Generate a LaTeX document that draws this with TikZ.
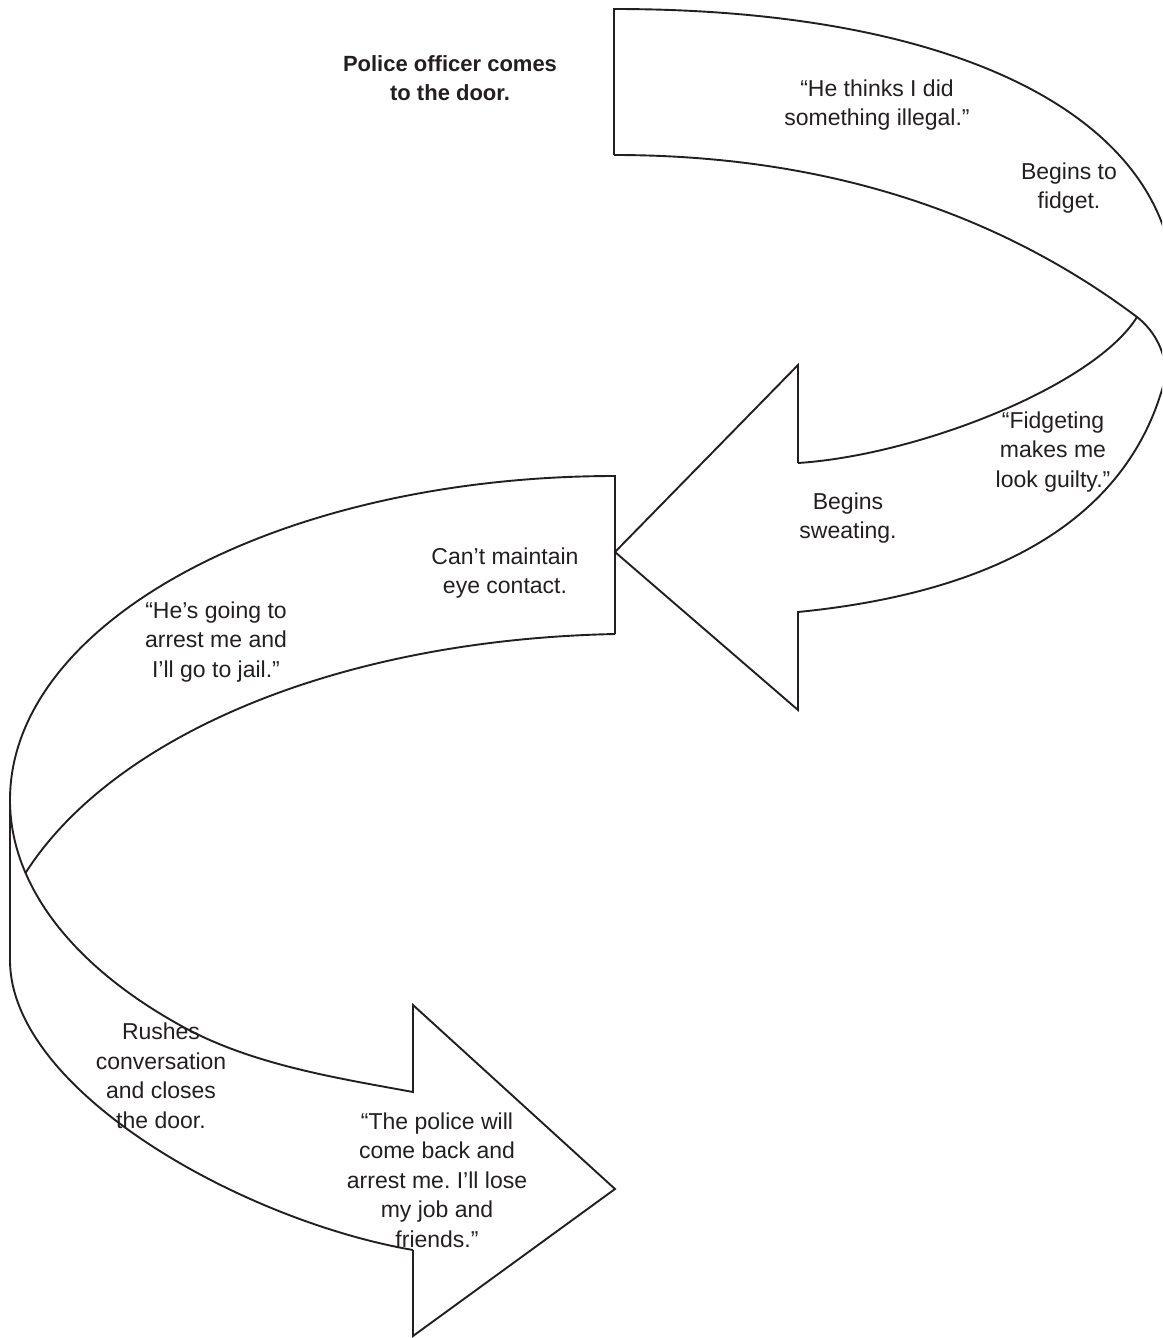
\documentclass[tikz,border=0pt]{standalone}
\usepackage{fontspec}
\setmainfont{Liberation Sans}
\usepackage{tikz}
\frenchspacing
\definecolor{rbink}{HTML}{231F20}
\tikzset{
  edge/.style={draw=rbink,line width=1.9pt,line join=miter},
  note/.style={align=center,inner sep=0pt,text=rbink,
               font=\fontsize{23}{29.5}\selectfont},
  lead/.style={note,font=\fontsize{22}{29.5}\selectfont\bfseries},
}

\begin{document}
\begin{tikzpicture}[x=1pt,y=1pt]
\useasboundingbox (0,-1338) rectangle (1162,0);
\clip (0,-1338) rectangle (1162,0);

% upper band, turning round on the right
\coordinate (topA) at (614,-9);
\coordinate (topB) at (614,-155);
\coordinate (turnR) at (1175,-295);
\coordinate (twistR) at (1137,-317);
\coordinate (shaftUp) at (798,-463);
\coordinate (shaftLo) at (798,-612);
\coordinate (tipL) at (615,-552);

% middle band, turning round on the left
\coordinate (midA) at (615,-476);
\coordinate (midB) at (615,-634);
\coordinate (turnL) at (10,-800);
\coordinate (twistL) at (25.5,-873);
\coordinate (shaftUp2) at (413,-1092);
\coordinate (shaftLo2) at (413,-1250);
\coordinate (tipB) at (615,-1189);

\draw[edge] (topB) -- (topA) .. controls (960,-9) and (1175,-118) .. (turnR)
  .. controls (1175,-500) and (1020,-590) .. (shaftLo)
  -- (798,-710) -- (tipL) -- (798,-365) -- (shaftUp);
\draw[edge] (shaftUp) .. controls (920,-455) and (1095,-385) .. (twistR);
\draw[edge] (topB) .. controls (850,-155) and (1017,-227) .. (twistR)
  .. controls (1155,-331) and (1168,-355) .. (1165,-380);

\draw[edge] (midB) -- (midA) arc[start angle=90,end angle=225,x radius=605,y radius=324]
  .. controls (257,-1066) and (343,-1079) .. (shaftUp2)
  -- (413,-1005) -- (tipB) -- (413,-1336) -- (shaftLo2);
\draw[edge] (midB) .. controls (330,-640) and (110,-740) .. (twistL);
\draw[edge] (turnL) -- (10,-960) .. controls (10,-1090) and (240,-1220) .. (shaftLo2);

\node[lead] (door) at (450,-78) {Police officer comes\\to the door.};
\node[note] (thinks) at (877,-105) {“He thinks I did\\something illegal.”};
\node[note] (fidget) at (1069,-188) {Begins to\\fidget.};
\node[note] (guilty) at (1053,-452) {“Fidgeting\\makes me\\look guilty.”};
\node[note] (sweat) at (848,-518) {Begins\\sweating.};
\node[note] (eyes) at (505,-573) {Can’t maintain\\eye contact.};
\node[note] (jail) at (216,-642) {“He’s going to\\arrest me and\\I’ll go to jail.”};
\node[note] (rush) at (161,-1076) {Rushes\\conversation\\and closes\\the door.};
\node[note] (lose) at (437,-1180) {“The police will\\come back and\\arrest me. I’ll lose\\my job and\\friends.”};
\end{tikzpicture}
\end{document}
